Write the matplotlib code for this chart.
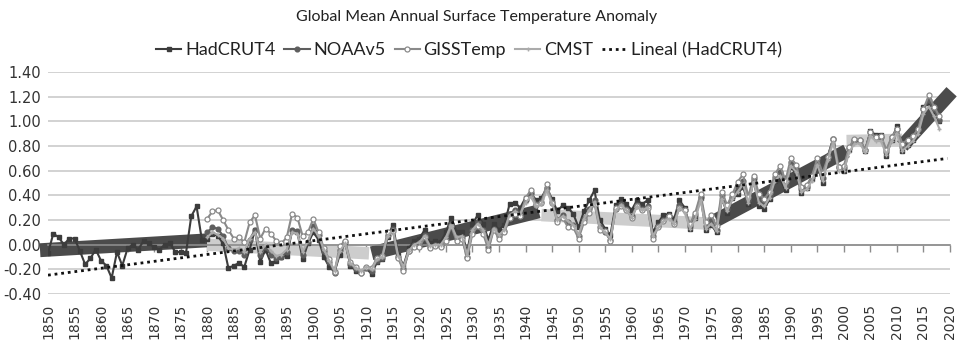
import matplotlib
matplotlib.use("Agg")
import matplotlib.pyplot as plt
import numpy as np

# years
had_years = list(range(1850, 2019))
oth_years = list(range(1880, 2019))

hadcrut4 = [
    -0.07, 0.09, 0.06, 0.00, 0.05, 0.05, -0.05, -0.16, -0.11, -0.04,
    -0.13, -0.17, -0.27, -0.06, -0.17, -0.03, 0.00, -0.04, 0.03, 0.01,
    -0.02, -0.04, 0.00, 0.01, -0.06, -0.06, -0.07, 0.23, 0.31, 0.04,
    0.05, 0.09, 0.07, 0.01, -0.19, -0.17, -0.15, -0.18, -0.04, 0.12,
    -0.14, -0.04, -0.15, -0.13, -0.10, -0.09, 0.11, 0.10, -0.12, 0.01,
    0.10, 0.04, -0.10, -0.18, -0.22, -0.08, 0.02, -0.17, -0.21, -0.22,
    -0.19, -0.24, -0.14, -0.12, 0.06, 0.16, -0.08, -0.17, -0.03, 0.03,
    0.05, 0.12, 0.01, 0.03, 0.02, 0.10, 0.22, 0.10, 0.10, -0.06,
    0.17, 0.24, 0.17, 0.04, 0.17, 0.12, 0.16, 0.33, 0.34, 0.30,
    0.38, 0.42, 0.36, 0.38, 0.46, 0.37, 0.27, 0.32, 0.30, 0.25,
    0.14, 0.27, 0.36, 0.44, 0.20, 0.13, 0.08, 0.32, 0.37, 0.33,
    0.28, 0.36, 0.33, 0.36, 0.10, 0.18, 0.24, 0.25, 0.21, 0.36,
    0.30, 0.13, 0.22, 0.38, 0.12, 0.16, 0.10, 0.37, 0.26, 0.38,
    0.41, 0.47, 0.33, 0.52, 0.31, 0.29, 0.37, 0.52, 0.53, 0.44,
    0.63, 0.58, 0.42, 0.46, 0.53, 0.65, 0.50, 0.72, 0.86, 0.62,
    0.60, 0.77, 0.84, 0.84, 0.76, 0.92, 0.89, 0.89, 0.72, 0.85,
    0.96, 0.76, 0.81, 0.85, 0.92, 1.12, 1.15, 1.08, 1.00,
]

noaav5 = [
    0.10, 0.14, 0.13, 0.07, -0.03, -0.05, -0.05, -0.08, 0.04, 0.12,
    -0.08, -0.02, -0.08, -0.11, -0.10, -0.06, 0.12, 0.11, -0.08, 0.02,
    0.15, 0.08, -0.05, -0.14, -0.23, -0.04, 0.02, -0.16, -0.20, -0.23,
    -0.19, -0.21, -0.13, -0.11, 0.08, 0.13, -0.10, -0.20, -0.05, 0.00,
    0.01, 0.08, -0.02, 0.00, -0.01, 0.05, 0.17, 0.05, 0.06, -0.10,
    0.12, 0.18, 0.12, -0.02, 0.13, 0.07, 0.11, 0.25, 0.28, 0.26,
    0.36, 0.42, 0.33, 0.35, 0.46, 0.35, 0.20, 0.24, 0.18, 0.16,
    0.07, 0.21, 0.29, 0.36, 0.14, 0.10, 0.04, 0.29, 0.33, 0.29,
    0.23, 0.32, 0.29, 0.31, 0.07, 0.15, 0.20, 0.23, 0.18, 0.32,
    0.28, 0.15, 0.24, 0.39, 0.15, 0.20, 0.12, 0.40, 0.29, 0.39,
    0.46, 0.52, 0.36, 0.54, 0.36, 0.33, 0.40, 0.55, 0.59, 0.48,
    0.67, 0.62, 0.45, 0.47, 0.55, 0.68, 0.54, 0.72, 0.86, 0.63,
    0.62, 0.78, 0.85, 0.85, 0.77, 0.91, 0.87, 0.87, 0.75, 0.87,
    0.94, 0.79, 0.83, 0.87, 0.93, 1.10, 1.17, 1.10, 1.01,
]

gisstemp = [
    0.21, 0.27, 0.28, 0.20, 0.12, 0.05, 0.06, 0.02, 0.18, 0.24,
    0.05, 0.13, 0.09, 0.03, 0.01, 0.06, 0.25, 0.22, 0.07, 0.10,
    0.21, 0.10, -0.03, -0.12, -0.22, -0.01, 0.03, -0.14, -0.18, -0.23,
    -0.18, -0.19, -0.11, -0.09, 0.10, 0.11, -0.11, -0.21, -0.05, -0.02,
    -0.02, 0.06, -0.03, -0.01, -0.02, 0.03, 0.15, 0.03, 0.05, -0.11,
    0.09, 0.15, 0.09, -0.04, 0.12, 0.05, 0.10, 0.22, 0.25, 0.23,
    0.38, 0.44, 0.32, 0.34, 0.49, 0.34, 0.18, 0.22, 0.14, 0.14,
    0.05, 0.18, 0.26, 0.33, 0.12, 0.11, 0.03, 0.30, 0.31, 0.28,
    0.22, 0.31, 0.28, 0.30, 0.05, 0.14, 0.19, 0.23, 0.17, 0.30,
    0.28, 0.17, 0.26, 0.41, 0.18, 0.24, 0.15, 0.43, 0.32, 0.41,
    0.51, 0.57, 0.39, 0.56, 0.41, 0.37, 0.43, 0.57, 0.64, 0.52,
    0.70, 0.65, 0.47, 0.48, 0.56, 0.70, 0.58, 0.71, 0.86, 0.63,
    0.64, 0.79, 0.86, 0.85, 0.77, 0.91, 0.87, 0.88, 0.77, 0.87,
    0.94, 0.82, 0.85, 0.88, 0.94, 1.10, 1.21, 1.12, 1.04,
]

cmst = [
    0.06, 0.10, 0.08, 0.05, -0.03, -0.04, -0.03, -0.06, 0.05, 0.10,
    -0.06, 0.00, -0.05, -0.09, -0.08, -0.04, 0.10, 0.09, -0.06, 0.03,
    0.13, 0.07, -0.04, -0.13, -0.21, -0.05, 0.01, -0.15, -0.19, -0.21,
    -0.18, -0.20, -0.12, -0.10, 0.07, 0.12, -0.09, -0.18, -0.05, 0.00,
    0.02, 0.07, -0.01, 0.00, 0.00, 0.06, 0.16, 0.06, 0.07, -0.08,
    0.12, 0.17, 0.12, 0.00, 0.13, 0.08, 0.12, 0.24, 0.27, 0.25,
    0.34, 0.39, 0.31, 0.33, 0.44, 0.33, 0.20, 0.23, 0.19, 0.16,
    0.08, 0.21, 0.28, 0.35, 0.14, 0.10, 0.05, 0.28, 0.32, 0.28,
    0.22, 0.31, 0.28, 0.30, 0.07, 0.14, 0.19, 0.21, 0.17, 0.30,
    0.26, 0.13, 0.21, 0.36, 0.13, 0.17, 0.11, 0.37, 0.27, 0.37,
    0.43, 0.49, 0.34, 0.51, 0.34, 0.31, 0.38, 0.52, 0.56, 0.46,
    0.64, 0.59, 0.43, 0.45, 0.52, 0.65, 0.52, 0.69, 0.83, 0.60,
    0.60, 0.75, 0.82, 0.82, 0.75, 0.88, 0.84, 0.84, 0.73, 0.84,
    0.90, 0.76, 0.80, 0.84, 0.90, 1.06, 1.12, 1.04, 0.94,
]

# thick period trend bands drawn over the chart
band_start_years = [1848.5, 1880, 1911, 1943, 1976, 2000.5, 2011]
band_end_years = [1880, 1910.5, 1942.5, 1975, 2000.5, 2011, 2020.3]
band_start_vals = [-0.045, 0.00, -0.07, 0.24, 0.20, 0.84, 0.80]
band_end_vals = [0.035, -0.07, 0.27, 0.17, 0.76, 0.85, 1.24]
band_dark = [True, False, True, False, True, False, True]

tick_years = list(range(1850, 2021, 5))
ytick_vals = [-0.4, -0.2, 0.0, 0.2, 0.4, 0.6, 0.8, 1.0, 1.2, 1.4]

W, H = 958, 342
fig = plt.figure(figsize=(W / 100, H / 100), dpi=100)
ax = fig.add_axes([48 / W, 1 - 294 / H, (950 - 48) / W, (294 - 72) / H])
ax.set_xlim(1850, 2020)
ax.set_ylim(-0.4, 1.4)

# bands
for x0, x1, y0, y1, dark in zip(band_start_years, band_end_years,
                                band_start_vals, band_end_vals, band_dark):
    ax.plot([x0, x1], [y0, y1], color="#4b4b4b" if dark else "#cdcdcd",
            lw=10 if dark else 9, solid_capstyle="butt", zorder=2, clip_on=False)

# series
ax.plot(had_years, hadcrut4, color="#3c3c3c", lw=1.5, marker="s", ms=3.4,
        label="HadCRUT4", zorder=3)
ax.plot(oth_years, noaav5, color="#5e5e5e", lw=1.5, marker="o", ms=3.4,
        label="NOAAv5", zorder=4)
ax.plot(oth_years, gisstemp, color="#8a8a8a", lw=1.5, marker="o", ms=3.6,
        mfc="white", mec="#8a8a8a", mew=0.9, label="GISSTemp", zorder=5)
ax.plot(oth_years, cmst, color="#ababab", lw=1.5, marker="+", ms=3.5,
        label="CMST", zorder=6)

# linear trend of HadCRUT4
k, q = np.polyfit(had_years, hadcrut4, 1)
tx = np.array([1850, 2019.5])
ax.plot(tx, k * tx + q, color="#111111", lw=2, ls=(0, (1, 1.4)),
        label="Lineal (HadCRUT4)", zorder=7)

# axes styling
for s in ["top", "right", "left"]:
    ax.spines[s].set_visible(False)
ax.spines["bottom"].set_position(("data", 0))
ax.spines["bottom"].set_color("#8c8c8c")
ax.spines["bottom"].set_linewidth(1.2)
ax.set_yticks(ytick_vals)
ax.set_yticklabels([f"{v:.2f}" for v in ytick_vals])
ax.yaxis.grid(True, color="#d2d2d2", lw=1.4)
ax.set_axisbelow(True)
ax.tick_params(axis="y", length=0, pad=5, labelsize=10.5, labelcolor="#333333")
ax.set_xticks(tick_years)
ax.tick_params(axis="x", direction="out", length=5, width=1, color="#8c8c8c",
               labelbottom=False)

sec = ax.secondary_xaxis("bottom")
sec.set_xticks(tick_years)
sec.set_xticklabels([str(y) for y in tick_years], rotation=90)
sec.tick_params(length=0, pad=7, labelsize=10, labelcolor="#333333")
sec.spines["bottom"].set_visible(False)

fig.text(477 / W, 1 - 17 / H, "Global Mean Annual Surface Temperature Anomaly",
         ha="center", va="center", fontsize=11.5, family="Lato", color="#222222")
fig.legend(loc="center", bbox_to_anchor=(469 / W, 1 - 50 / H), ncol=5,
           frameon=False, prop={"family": "Lato", "size": 13},
           handlelength=1.4, handletextpad=0.2, columnspacing=0.5,
           labelcolor="#222222")

fig.savefig("out.png", dpi=100)
